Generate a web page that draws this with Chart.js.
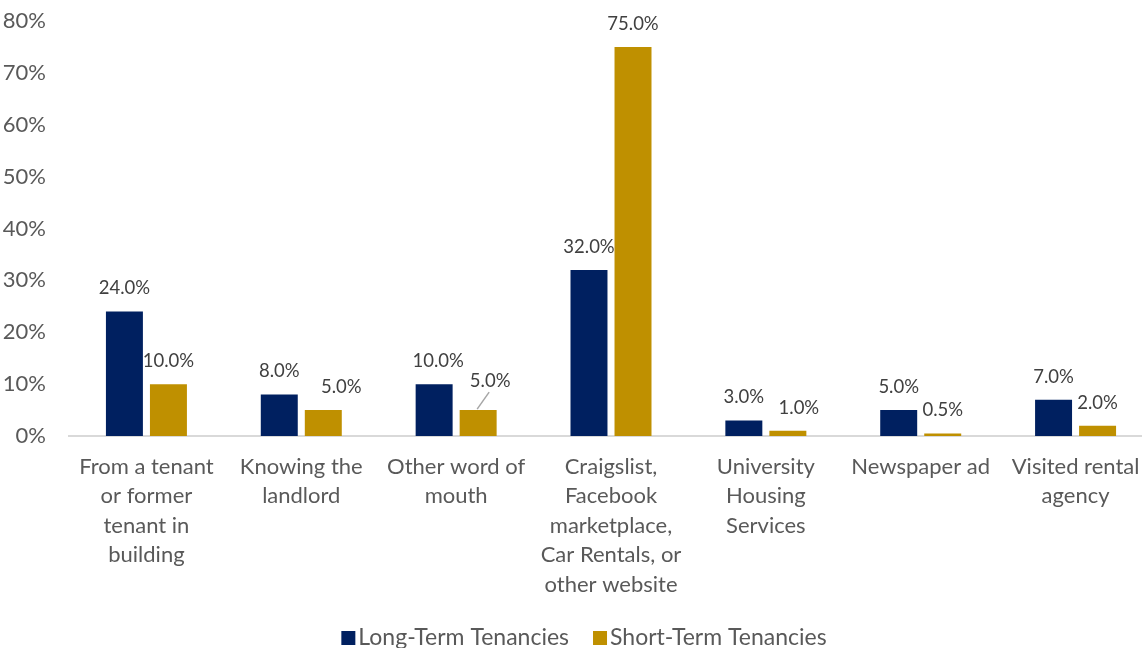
<!DOCTYPE html>
<html>
<head>
<meta charset="utf-8">
<script src="https://cdn.jsdelivr.net/npm/chart.js@4"></script>
<style>
  html, body { margin: 0; padding: 0; background: #fff; overflow: hidden; }
  #wrap { width: 1153px; height: 648px; position: relative; }
</style>
</head>
<body>
<div id="wrap"><canvas id="myChart"></canvas></div>
<script>
const categories = [
  ['From a tenant', 'or former', 'tenant in', 'building'],
  ['Knowing the', 'landlord'],
  ['Other word of', 'mouth'],
  ['Craigslist,', 'Facebook', 'marketplace,', 'Car Rentals, or', 'other website'],
  ['University', 'Housing', 'Services'],
  ['Newspaper ad'],
  ['Visited rental', 'agency']
];
const longTerm = [24.0, 8.0, 10.0, 32.0, 3.0, 5.0, 7.0];
const shortTerm = [10.0, 5.0, 5.0, 75.0, 1.0, 0.5, 2.0];
const yTicks = [0, 10, 20, 30, 40, 50, 60, 70, 80];

const FONT = 'Lato, "Open Sans", sans-serif';

// label nudges where Excel moved labels off centre: 'dataset-index' = [dx, dy, leader line]
const nudges = {
  '1-1': [18, 0, false],
  '0-2': [4, 0, false],
  '1-2': [12, -6, true],
  '1-4': [11, 0, false]
};

const dataLabels = {
  id: 'dataLabels',
  afterDatasetsDraw(chart) {
    const ctx = chart.ctx;
    ctx.save();
    ctx.font = '18.5px ' + FONT;
    ctx.fillStyle = '#404040';
    ctx.textAlign = 'center';
    ctx.textBaseline = 'middle';
    chart.data.datasets.forEach((ds, di) => {
      chart.getDatasetMeta(di).data.forEach((bar, i) => {
        const n = nudges[di + '-' + i] || [0, 0, false];
        const x = bar.x + n[0];
        const y = bar.y - 23 + n[1];
        if (n[2]) {
          ctx.strokeStyle = '#a6a6a6';
          ctx.lineWidth = 1.5;
          ctx.beginPath();
          ctx.moveTo(bar.x - 1, bar.y - 1);
          ctx.lineTo(x - 1, y + 11);
          ctx.stroke();
        }
        ctx.fillText(ds.data[i].toFixed(1) + '%', x, y);
      });
    });
    ctx.restore();
  }
};

// legend drawn by hand so the box sits close to its text like in Excel
const bottomLegend = {
  id: 'bottomLegend',
  afterDraw(chart) {
    const ctx = chart.ctx;
    ctx.save();
    ctx.font = '23px ' + FONT;
    ctx.textBaseline = 'middle';
    ctx.textAlign = 'left';
    const items = chart.data.datasets.map(ds => ({
      label: ds.label, color: ds.backgroundColor, w: ctx.measureText(ds.label).width
    }));
    const box = 14, gap = 3, space = 24;
    const total = items.reduce((s, it) => s + box + gap + it.w, 0) + space * (items.length - 1);
    const cx = (chart.chartArea.left + chart.chartArea.right) / 2 - 27;
    let x = cx - total / 2;
    const y = chart.height - 10;
    items.forEach(it => {
      ctx.fillStyle = it.color;
      ctx.fillRect(x, y - box / 2, box, box);
      ctx.fillStyle = '#595959';
      ctx.fillText(it.label, x + box + gap, y);
      x += box + gap + it.w + space;
    });
    ctx.restore();
  }
};

const data = {
  labels: categories,
  datasets: [{
    label: 'Long-Term Tenancies',
    data: longTerm,
    backgroundColor: '#002060',
    categoryPercentage: 0.5685,
    barPercentage: 0.84
  }, {
    label: 'Short-Term Tenancies',
    data: shortTerm,
    backgroundColor: '#BF9000',
    categoryPercentage: 0.5685,
    barPercentage: 0.84
  }]
};

const config = {
  type: 'bar',
  data,
  plugins: [dataLabels, bottomLegend],
  options: {
    responsive: true,
    maintainAspectRatio: false,
    animation: false,
    layout: { padding: { top: 21, right: 0, left: 0, bottom: 44 } },
    plugins: {
      tooltip: { enabled: false },
      legend: { display: false }
    },
    scales: {
      x: {
        grid: { display: false, drawTicks: false },
        border: { color: '#d9d9d9', width: 2 },
        ticks: {
          font: { family: FONT, size: 22, lineHeight: 1.34 },
          color: '#595959',
          maxRotation: 0,
          autoSkip: false,
          padding: 16
        },
        afterFit: s => { s.height = 168; s.paddingLeft = 0; s.paddingRight = 0; }
      },
      y: {
        min: 0,
        max: 80,
        grid: { display: false, drawTicks: false },
        border: { display: false },
        afterBuildTicks: s => { s.ticks = yTicks.map(v => ({ value: v })); },
        ticks: {
          font: { family: FONT, size: 22 },
          color: '#595959',
          padding: 23,
          callback: v => v + '%'
        },
        afterFit: s => { s.width = 69; s.paddingTop = 0; s.paddingBottom = 0; }
      }
    }
  }
};

new Chart(document.getElementById('myChart'), config);
</script>
</body>
</html>
